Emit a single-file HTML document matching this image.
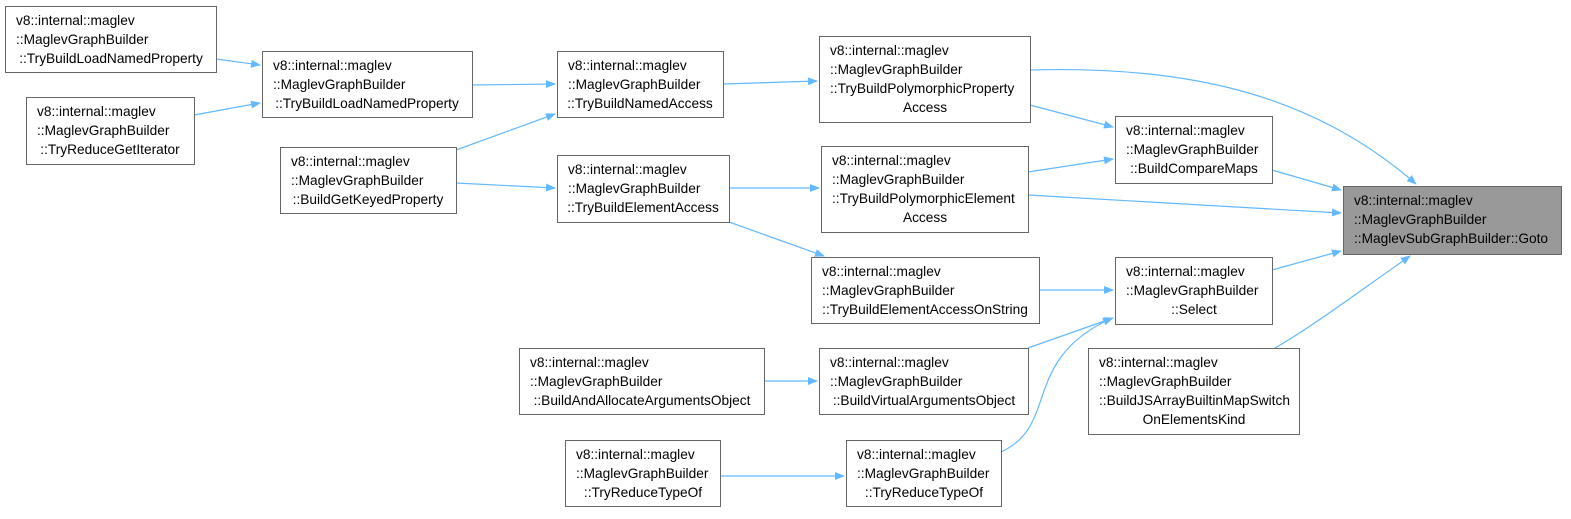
<!DOCTYPE html>
<html><head><meta charset="utf-8"><style>
html,body{margin:0;padding:0;background:#fff;}
svg text{font-family:"Liberation Sans",sans-serif;font-size:13.7px;fill:#000;}
</style></head><body>
<svg width="1571" height="514" viewBox="0 0 1571 514" xmlns="http://www.w3.org/2000/svg">
<defs><marker id="a" markerWidth="10" markerHeight="8" refX="9" refY="4" orient="auto" markerUnits="userSpaceOnUse"><path d="M0,0 L10,4 L0,8 z" fill="#63b8ff"/></marker></defs>
<g fill="none" stroke="#63b8ff" stroke-width="1.2" marker-end="url(#a)">
<path d="M216,59 L260,65"/>
<path d="M194,115 L260,103"/>
<path d="M472,85 L555,84"/>
<path d="M456,150 L555,114"/>
<path d="M456,183 L555,188"/>
<path d="M723,84 L817,81"/>
<path d="M729,188 L819,188"/>
<path d="M729,222 L824,256"/>
<path d="M1030,105 L1113,127"/>
<path d="M1028,172 L1113,159"/>
<path d="M1030,70 C1200,65 1320,100 1416,184"/>
<path d="M1272,170 L1341,190"/>
<path d="M1028,195 L1341,213"/>
<path d="M1272,270 L1341,251"/>
<path d="M1275,348 C1310,328 1350,298 1410,256"/>
<path d="M1039,290 L1113,290"/>
<path d="M1028,348 L1113,318"/>
<path d="M1001,452 C1060,425 1020,360 1112,318"/>
<path d="M764,381 L817,381"/>
<path d="M720,476 L844,476"/>
</g>
<g stroke="#666" stroke-width="1" fill="#fff">
<rect x="5.5" y="6.5" width="211" height="66"/>
<rect x="26.5" y="97.5" width="168" height="67"/>
<rect x="262.5" y="51.5" width="210" height="66"/>
<rect x="280.5" y="147.5" width="176" height="66"/>
<rect x="557.5" y="51.5" width="166" height="66"/>
<rect x="557.5" y="155.5" width="172" height="67"/>
<rect x="819.5" y="36.5" width="211" height="86"/>
<rect x="821.5" y="146.5" width="207" height="86"/>
<rect x="811.5" y="257.5" width="228" height="66"/>
<rect x="819.5" y="348.5" width="209" height="66"/>
<rect x="846.5" y="440.5" width="155" height="66"/>
<rect x="519.5" y="348.5" width="245" height="66"/>
<rect x="565.5" y="440.5" width="155" height="66"/>
<rect x="1115.5" y="116.5" width="157" height="67"/>
<rect x="1115.5" y="257.5" width="157" height="67"/>
<rect x="1088.5" y="348.5" width="211" height="86"/>
<rect x="1343.5" y="186.5" width="218" height="68" fill="#999"/>
</g>
<text x="16" y="25">v8::internal::maglev</text><text x="16" y="44">::MaglevGraphBuilder</text><text x="111" y="63" text-anchor="middle">::TryBuildLoadNamedProperty</text>
<text x="37" y="116">v8::internal::maglev</text><text x="37" y="135">::MaglevGraphBuilder</text><text x="110" y="154" text-anchor="middle">::TryReduceGetIterator</text>
<text x="273" y="70">v8::internal::maglev</text><text x="273" y="89">::MaglevGraphBuilder</text><text x="367" y="108" text-anchor="middle">::TryBuildLoadNamedProperty</text>
<text x="291" y="166">v8::internal::maglev</text><text x="291" y="185">::MaglevGraphBuilder</text><text x="368" y="204" text-anchor="middle">::BuildGetKeyedProperty</text>
<text x="568" y="70">v8::internal::maglev</text><text x="568" y="89">::MaglevGraphBuilder</text><text x="640" y="108" text-anchor="middle">::TryBuildNamedAccess</text>
<text x="568" y="174">v8::internal::maglev</text><text x="568" y="193">::MaglevGraphBuilder</text><text x="643" y="212" text-anchor="middle">::TryBuildElementAccess</text>
<text x="830" y="55">v8::internal::maglev</text><text x="830" y="74">::MaglevGraphBuilder</text><text x="830" y="93">::TryBuildPolymorphicProperty</text><text x="925" y="112" text-anchor="middle">Access</text>
<text x="832" y="165">v8::internal::maglev</text><text x="832" y="184">::MaglevGraphBuilder</text><text x="832" y="203">::TryBuildPolymorphicElement</text><text x="925" y="222" text-anchor="middle">Access</text>
<text x="822" y="276">v8::internal::maglev</text><text x="822" y="295">::MaglevGraphBuilder</text><text x="925" y="314" text-anchor="middle">::TryBuildElementAccessOnString</text>
<text x="830" y="367">v8::internal::maglev</text><text x="830" y="386">::MaglevGraphBuilder</text><text x="924" y="405" text-anchor="middle">::BuildVirtualArgumentsObject</text>
<text x="857" y="459">v8::internal::maglev</text><text x="857" y="478">::MaglevGraphBuilder</text><text x="924" y="497" text-anchor="middle">::TryReduceTypeOf</text>
<text x="530" y="367">v8::internal::maglev</text><text x="530" y="386">::MaglevGraphBuilder</text><text x="642" y="405" text-anchor="middle">::BuildAndAllocateArgumentsObject</text>
<text x="576" y="459">v8::internal::maglev</text><text x="576" y="478">::MaglevGraphBuilder</text><text x="643" y="497" text-anchor="middle">::TryReduceTypeOf</text>
<text x="1126" y="135">v8::internal::maglev</text><text x="1126" y="154">::MaglevGraphBuilder</text><text x="1194" y="173" text-anchor="middle">::BuildCompareMaps</text>
<text x="1126" y="276">v8::internal::maglev</text><text x="1126" y="295">::MaglevGraphBuilder</text><text x="1194" y="314" text-anchor="middle">::Select</text>
<text x="1099" y="367">v8::internal::maglev</text><text x="1099" y="386">::MaglevGraphBuilder</text><text x="1099" y="405">::BuildJSArrayBuiltinMapSwitch</text><text x="1194" y="424" text-anchor="middle">OnElementsKind</text>
<text x="1354" y="205">v8::internal::maglev</text><text x="1354" y="224">::MaglevGraphBuilder</text><text x="1354" y="243">::MaglevSubGraphBuilder::Goto</text>
</svg>
</body></html>
